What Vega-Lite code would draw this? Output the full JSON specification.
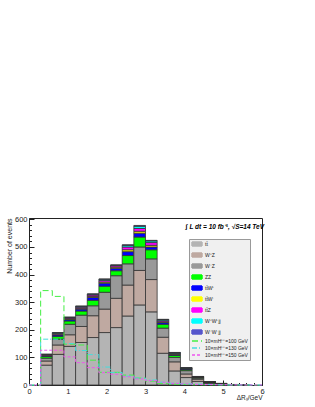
{
"$schema": "https://vega.github.io/schema/vega-lite/v6.json",
"autosize": "none",
"width": 233,
"height": 167,
"padding": {"left": 29, "top": 218, "right": 53, "bottom": 22},
"background": "white",
"title": {"text": "∫ L dt = 10 fb⁻¹, √S=14 TeV", "anchor": "end", "offset": -15, "fontSize": 6.5, "fontStyle": "italic", "fontWeight": "bold", "font": "Liberation Sans", "color": "#000", "dx": -2},
"config": {
  "view": {"stroke": "#222", "strokeWidth": 1},
  "font": "Liberation Sans",
  "axis": {"labelColor": "#222", "domainColor": "#222", "tickColor": "#222", "grid": false, "titleColor": "#222", "titleFontWeight": "normal"}
},
"resolve": {"axis": {"x": "independent", "y": "independent"}},
"datasets": {
  "bkg": [
    {"lo":0.3,"hi":0.6,"p":"tt̄","k":1,"n":72},{"lo":0.3,"hi":0.6,"p":"W⁺Z","k":2,"n":15},{"lo":0.3,"hi":0.6,"p":"W⁻Z","k":3,"n":10},{"lo":0.3,"hi":0.6,"p":"ZZ","k":4,"n":6},{"lo":0.3,"hi":0.6,"p":"tt̄W⁺","k":5,"n":3},{"lo":0.3,"hi":0.6,"p":"tt̄W⁻","k":6,"n":2},{"lo":0.3,"hi":0.6,"p":"tt̄Z","k":7,"n":2},{"lo":0.3,"hi":0.6,"p":"W⁺W⁺jj","k":8,"n":1},{"lo":0.3,"hi":0.6,"p":"W⁻W⁻jj","k":9,"n":0.5},
    {"lo":0.6,"hi":0.9,"p":"tt̄","k":1,"n":111},{"lo":0.6,"hi":0.9,"p":"W⁺Z","k":2,"n":34},{"lo":0.6,"hi":0.9,"p":"W⁻Z","k":3,"n":21},{"lo":0.6,"hi":0.9,"p":"ZZ","k":4,"n":10},{"lo":0.6,"hi":0.9,"p":"tt̄W⁺","k":5,"n":5},{"lo":0.6,"hi":0.9,"p":"tt̄W⁻","k":6,"n":3},{"lo":0.6,"hi":0.9,"p":"tt̄Z","k":7,"n":3},{"lo":0.6,"hi":0.9,"p":"W⁺W⁺jj","k":8,"n":2},{"lo":0.6,"hi":0.9,"p":"W⁻W⁻jj","k":9,"n":1},
    {"lo":0.9,"hi":1.2,"p":"tt̄","k":1,"n":140},{"lo":0.9,"hi":1.2,"p":"W⁺Z","k":2,"n":42},{"lo":0.9,"hi":1.2,"p":"W⁻Z","k":3,"n":38},{"lo":0.9,"hi":1.2,"p":"ZZ","k":4,"n":12},{"lo":0.9,"hi":1.2,"p":"tt̄W⁺","k":5,"n":5},{"lo":0.9,"hi":1.2,"p":"tt̄W⁻","k":6,"n":3},{"lo":0.9,"hi":1.2,"p":"tt̄Z","k":7,"n":3},{"lo":0.9,"hi":1.2,"p":"W⁺W⁺jj","k":8,"n":2},{"lo":0.9,"hi":1.2,"p":"W⁻W⁻jj","k":9,"n":1},
    {"lo":1.2,"hi":1.5,"p":"tt̄","k":1,"n":154},{"lo":1.2,"hi":1.5,"p":"W⁺Z","k":2,"n":58},{"lo":1.2,"hi":1.5,"p":"W⁻Z","k":3,"n":41},{"lo":1.2,"hi":1.5,"p":"ZZ","k":4,"n":15},{"lo":1.2,"hi":1.5,"p":"tt̄W⁺","k":5,"n":7},{"lo":1.2,"hi":1.5,"p":"tt̄W⁻","k":6,"n":3},{"lo":1.2,"hi":1.5,"p":"tt̄Z","k":7,"n":4},{"lo":1.2,"hi":1.5,"p":"W⁺W⁺jj","k":8,"n":3},{"lo":1.2,"hi":1.5,"p":"W⁻W⁻jj","k":9,"n":1},
    {"lo":1.5,"hi":1.8,"p":"tt̄","k":1,"n":172},{"lo":1.5,"hi":1.8,"p":"W⁺Z","k":2,"n":79},{"lo":1.5,"hi":1.8,"p":"W⁻Z","k":3,"n":36},{"lo":1.5,"hi":1.8,"p":"ZZ","k":4,"n":20},{"lo":1.5,"hi":1.8,"p":"tt̄W⁺","k":5,"n":10},{"lo":1.5,"hi":1.8,"p":"tt̄W⁻","k":6,"n":4},{"lo":1.5,"hi":1.8,"p":"tt̄Z","k":7,"n":5},{"lo":1.5,"hi":1.8,"p":"W⁺W⁺jj","k":8,"n":3},{"lo":1.5,"hi":1.8,"p":"W⁻W⁻jj","k":9,"n":1},
    {"lo":1.8,"hi":2.1,"p":"tt̄","k":1,"n":190},{"lo":1.8,"hi":2.1,"p":"W⁺Z","k":2,"n":85},{"lo":1.8,"hi":2.1,"p":"W⁻Z","k":3,"n":61},{"lo":1.8,"hi":2.1,"p":"ZZ","k":4,"n":22},{"lo":1.8,"hi":2.1,"p":"tt̄W⁺","k":5,"n":11},{"lo":1.8,"hi":2.1,"p":"tt̄W⁻","k":6,"n":4},{"lo":1.8,"hi":2.1,"p":"tt̄Z","k":7,"n":6},{"lo":1.8,"hi":2.1,"p":"W⁺W⁺jj","k":8,"n":4},{"lo":1.8,"hi":2.1,"p":"W⁻W⁻jj","k":9,"n":1},
    {"lo":2.1,"hi":2.4,"p":"tt̄","k":1,"n":208},{"lo":2.1,"hi":2.4,"p":"W⁺Z","k":2,"n":106},{"lo":2.1,"hi":2.4,"p":"W⁻Z","k":3,"n":82},{"lo":2.1,"hi":2.4,"p":"ZZ","k":4,"n":18},{"lo":2.1,"hi":2.4,"p":"tt̄W⁺","k":5,"n":9},{"lo":2.1,"hi":2.4,"p":"tt̄W⁻","k":6,"n":4},{"lo":2.1,"hi":2.4,"p":"tt̄Z","k":7,"n":5},{"lo":2.1,"hi":2.4,"p":"W⁺W⁺jj","k":8,"n":2},{"lo":2.1,"hi":2.4,"p":"W⁻W⁻jj","k":9,"n":1},
    {"lo":2.4,"hi":2.7,"p":"tt̄","k":1,"n":250},{"lo":2.4,"hi":2.7,"p":"W⁺Z","k":2,"n":112},{"lo":2.4,"hi":2.7,"p":"W⁻Z","k":3,"n":77},{"lo":2.4,"hi":2.7,"p":"ZZ","k":4,"n":30},{"lo":2.4,"hi":2.7,"p":"tt̄W⁺","k":5,"n":14},{"lo":2.4,"hi":2.7,"p":"tt̄W⁻","k":6,"n":7},{"lo":2.4,"hi":2.7,"p":"tt̄Z","k":7,"n":10},{"lo":2.4,"hi":2.7,"p":"W⁺W⁺jj","k":8,"n":6},{"lo":2.4,"hi":2.7,"p":"W⁻W⁻jj","k":9,"n":2},
    {"lo":2.7,"hi":3.0,"p":"tt̄","k":1,"n":290},{"lo":2.7,"hi":3.0,"p":"W⁺Z","k":2,"n":125},{"lo":2.7,"hi":3.0,"p":"W⁻Z","k":3,"n":85},{"lo":2.7,"hi":3.0,"p":"ZZ","k":4,"n":36},{"lo":2.7,"hi":3.0,"p":"tt̄W⁺","k":5,"n":14},{"lo":2.7,"hi":3.0,"p":"tt̄W⁻","k":6,"n":7},{"lo":2.7,"hi":3.0,"p":"tt̄Z","k":7,"n":10},{"lo":2.7,"hi":3.0,"p":"W⁺W⁺jj","k":8,"n":8},{"lo":2.7,"hi":3.0,"p":"W⁻W⁻jj","k":9,"n":3},
    {"lo":3.0,"hi":3.3,"p":"tt̄","k":1,"n":265},{"lo":3.0,"hi":3.3,"p":"W⁺Z","k":2,"n":117},{"lo":3.0,"hi":3.3,"p":"W⁻Z","k":3,"n":75},{"lo":3.0,"hi":3.3,"p":"ZZ","k":4,"n":33},{"lo":3.0,"hi":3.3,"p":"tt̄W⁺","k":5,"n":10},{"lo":3.0,"hi":3.3,"p":"tt̄W⁻","k":6,"n":6},{"lo":3.0,"hi":3.3,"p":"tt̄Z","k":7,"n":10},{"lo":3.0,"hi":3.3,"p":"W⁺W⁺jj","k":8,"n":6},{"lo":3.0,"hi":3.3,"p":"W⁻W⁻jj","k":9,"n":2},
    {"lo":3.3,"hi":3.6,"p":"tt̄","k":1,"n":115},{"lo":3.3,"hi":3.6,"p":"W⁺Z","k":2,"n":58},{"lo":3.3,"hi":3.6,"p":"W⁻Z","k":3,"n":33},{"lo":3.3,"hi":3.6,"p":"ZZ","k":4,"n":14},{"lo":3.3,"hi":3.6,"p":"tt̄W⁺","k":5,"n":6},{"lo":3.3,"hi":3.6,"p":"tt̄W⁻","k":6,"n":3},{"lo":3.3,"hi":3.6,"p":"tt̄Z","k":7,"n":4},{"lo":3.3,"hi":3.6,"p":"W⁺W⁺jj","k":8,"n":4},{"lo":3.3,"hi":3.6,"p":"W⁻W⁻jj","k":9,"n":1},
    {"lo":3.6,"hi":3.9,"p":"tt̄","k":1,"n":51},{"lo":3.6,"hi":3.9,"p":"W⁺Z","k":2,"n":33},{"lo":3.6,"hi":3.9,"p":"W⁻Z","k":3,"n":16},{"lo":3.6,"hi":3.9,"p":"ZZ","k":4,"n":7},{"lo":3.6,"hi":3.9,"p":"tt̄W⁺","k":5,"n":4},{"lo":3.6,"hi":3.9,"p":"tt̄W⁻","k":6,"n":2},{"lo":3.6,"hi":3.9,"p":"tt̄Z","k":7,"n":2},{"lo":3.6,"hi":3.9,"p":"W⁺W⁺jj","k":8,"n":2},{"lo":3.6,"hi":3.9,"p":"W⁻W⁻jj","k":9,"n":1},
    {"lo":3.9,"hi":4.2,"p":"tt̄","k":1,"n":27},{"lo":3.9,"hi":4.2,"p":"W⁺Z","k":2,"n":13},{"lo":3.9,"hi":4.2,"p":"W⁻Z","k":3,"n":12},{"lo":3.9,"hi":4.2,"p":"ZZ","k":4,"n":4},{"lo":3.9,"hi":4.2,"p":"tt̄W⁺","k":5,"n":3},{"lo":3.9,"hi":4.2,"p":"tt̄W⁻","k":6,"n":1},{"lo":3.9,"hi":4.2,"p":"tt̄Z","k":7,"n":1},{"lo":3.9,"hi":4.2,"p":"W⁺W⁺jj","k":8,"n":1},{"lo":3.9,"hi":4.2,"p":"W⁻W⁻jj","k":9,"n":1},
    {"lo":4.2,"hi":4.5,"p":"tt̄","k":1,"n":13},{"lo":4.2,"hi":4.5,"p":"W⁺Z","k":2,"n":8},{"lo":4.2,"hi":4.5,"p":"W⁻Z","k":3,"n":4},{"lo":4.2,"hi":4.5,"p":"ZZ","k":4,"n":2},{"lo":4.2,"hi":4.5,"p":"tt̄W⁺","k":5,"n":1.5},{"lo":4.2,"hi":4.5,"p":"tt̄W⁻","k":6,"n":0.5},{"lo":4.2,"hi":4.5,"p":"tt̄Z","k":7,"n":1},{"lo":4.2,"hi":4.5,"p":"W⁺W⁺jj","k":8,"n":0.5},{"lo":4.2,"hi":4.5,"p":"W⁻W⁻jj","k":9,"n":0.5},
    {"lo":4.5,"hi":4.8,"p":"tt̄","k":1,"n":5},{"lo":4.5,"hi":4.8,"p":"W⁺Z","k":2,"n":3},{"lo":4.5,"hi":4.8,"p":"W⁻Z","k":3,"n":2},{"lo":4.5,"hi":4.8,"p":"ZZ","k":4,"n":1},{"lo":4.5,"hi":4.8,"p":"tt̄W⁺","k":5,"n":0.5},{"lo":4.5,"hi":4.8,"p":"tt̄W⁻","k":6,"n":0.2},{"lo":4.5,"hi":4.8,"p":"tt̄Z","k":7,"n":0.2},{"lo":4.5,"hi":4.8,"p":"W⁺W⁺jj","k":8,"n":0.1},{"lo":4.5,"hi":4.8,"p":"W⁻W⁻jj","k":9,"n":0.1},
    {"lo":4.8,"hi":5.1,"p":"tt̄","k":1,"n":2},{"lo":4.8,"hi":5.1,"p":"W⁺Z","k":2,"n":2},{"lo":4.8,"hi":5.1,"p":"W⁻Z","k":3,"n":1},{"lo":4.8,"hi":5.1,"p":"ZZ","k":4,"n":0.5},{"lo":4.8,"hi":5.1,"p":"tt̄W⁺","k":5,"n":0.3},
    {"lo":5.1,"hi":5.4,"p":"tt̄","k":1,"n":1},{"lo":5.1,"hi":5.4,"p":"W⁺Z","k":2,"n":0.5},{"lo":5.1,"hi":5.4,"p":"W⁻Z","k":3,"n":0.5},
    {"lo":5.4,"hi":5.7,"p":"tt̄","k":1,"n":0.5},{"lo":5.4,"hi":5.7,"p":"W⁺Z","k":2,"n":0.3}
  ],
  "sig": [
    {"x":0,"p":"10×mH⁺⁺=100 GeV","n":0},{"x":0.3,"p":"10×mH⁺⁺=100 GeV","n":342},{"x":0.6,"p":"10×mH⁺⁺=100 GeV","n":321},{"x":0.9,"p":"10×mH⁺⁺=100 GeV","n":148},{"x":1.2,"p":"10×mH⁺⁺=100 GeV","n":145},{"x":1.5,"p":"10×mH⁺⁺=100 GeV","n":90},{"x":1.8,"p":"10×mH⁺⁺=100 GeV","n":46},{"x":2.1,"p":"10×mH⁺⁺=100 GeV","n":46},{"x":2.4,"p":"10×mH⁺⁺=100 GeV","n":36},{"x":2.7,"p":"10×mH⁺⁺=100 GeV","n":25},{"x":3.0,"p":"10×mH⁺⁺=100 GeV","n":14},{"x":3.3,"p":"10×mH⁺⁺=100 GeV","n":6},{"x":3.6,"p":"10×mH⁺⁺=100 GeV","n":3},{"x":3.9,"p":"10×mH⁺⁺=100 GeV","n":2},{"x":4.2,"p":"10×mH⁺⁺=100 GeV","n":1},{"x":4.5,"p":"10×mH⁺⁺=100 GeV","n":1},{"x":4.8,"p":"10×mH⁺⁺=100 GeV","n":0.5},{"x":5.1,"p":"10×mH⁺⁺=100 GeV","n":0.3},{"x":5.4,"p":"10×mH⁺⁺=100 GeV","n":0.2},{"x":6.0,"p":"10×mH⁺⁺=100 GeV","n":0.2},
    {"x":0,"p":"10×mH⁺⁺=130 GeV","n":0},{"x":0.3,"p":"10×mH⁺⁺=130 GeV","n":166},{"x":0.6,"p":"10×mH⁺⁺=130 GeV","n":166},{"x":0.9,"p":"10×mH⁺⁺=130 GeV","n":150},{"x":1.2,"p":"10×mH⁺⁺=130 GeV","n":125},{"x":1.5,"p":"10×mH⁺⁺=130 GeV","n":110},{"x":1.8,"p":"10×mH⁺⁺=130 GeV","n":65},{"x":2.1,"p":"10×mH⁺⁺=130 GeV","n":45},{"x":2.4,"p":"10×mH⁺⁺=130 GeV","n":32},{"x":2.7,"p":"10×mH⁺⁺=130 GeV","n":25},{"x":3.0,"p":"10×mH⁺⁺=130 GeV","n":18},{"x":3.3,"p":"10×mH⁺⁺=130 GeV","n":10},{"x":3.6,"p":"10×mH⁺⁺=130 GeV","n":6},{"x":3.9,"p":"10×mH⁺⁺=130 GeV","n":4},{"x":4.2,"p":"10×mH⁺⁺=130 GeV","n":3},{"x":4.5,"p":"10×mH⁺⁺=130 GeV","n":2},{"x":4.8,"p":"10×mH⁺⁺=130 GeV","n":1},{"x":5.1,"p":"10×mH⁺⁺=130 GeV","n":0.5},{"x":5.4,"p":"10×mH⁺⁺=130 GeV","n":0.3},{"x":6.0,"p":"10×mH⁺⁺=130 GeV","n":0.3},
    {"x":0,"p":"10×mH⁺⁺=150 GeV","n":0},{"x":0.3,"p":"10×mH⁺⁺=150 GeV","n":126},{"x":0.6,"p":"10×mH⁺⁺=150 GeV","n":126},{"x":0.9,"p":"10×mH⁺⁺=150 GeV","n":102},{"x":1.2,"p":"10×mH⁺⁺=150 GeV","n":81},{"x":1.5,"p":"10×mH⁺⁺=150 GeV","n":63},{"x":1.8,"p":"10×mH⁺⁺=150 GeV","n":45},{"x":2.1,"p":"10×mH⁺⁺=150 GeV","n":39},{"x":2.4,"p":"10×mH⁺⁺=150 GeV","n":30},{"x":2.7,"p":"10×mH⁺⁺=150 GeV","n":22},{"x":3.0,"p":"10×mH⁺⁺=150 GeV","n":16},{"x":3.3,"p":"10×mH⁺⁺=150 GeV","n":10},{"x":3.6,"p":"10×mH⁺⁺=150 GeV","n":6},{"x":3.9,"p":"10×mH⁺⁺=150 GeV","n":4},{"x":4.2,"p":"10×mH⁺⁺=150 GeV","n":2},{"x":4.5,"p":"10×mH⁺⁺=150 GeV","n":1.5},{"x":4.8,"p":"10×mH⁺⁺=150 GeV","n":1},{"x":5.1,"p":"10×mH⁺⁺=150 GeV","n":0.5},{"x":5.4,"p":"10×mH⁺⁺=150 GeV","n":0.3},{"x":6.0,"p":"10×mH⁺⁺=150 GeV","n":0.3}
  ]
},
"layer": [
  {
    "data": {"name": "bkg"},
    "transform": [{"stack": "n", "groupby": ["lo"], "sort": [{"field": "k", "order": "ascending"}], "as": ["y0", "y1"]}],
    "mark": {"type": "bar", "stroke": "#333", "strokeWidth": 0.8},
    "encoding": {
      "x": {"field": "lo", "type": "quantitative", "scale": {"domain": [0, 6], "nice": false},
        "axis": {"orient": "bottom", "values": [0,1,2,3,4,5,6], "labelFontSize": 7.5, "tickSize": -5, "labelPadding": 7, "labelFlush": false, "title": "ΔRₗₗ/GeV", "titleAnchor": "end", "titleFontSize": 6.5, "titlePadding": 0}},
      "x2": {"field": "hi"},
      "y": {"field": "y0", "type": "quantitative", "scale": {"domain": [0, 605], "nice": false},
        "axis": {"orient": "left", "values": [0,100,200,300,400,500,600], "labelFontSize": 7.5, "tickSize": -5, "labelPadding": 7, "labelFlush": false, "title": "Number of events", "titleAnchor": "end", "titleFontSize": 7, "titlePadding": 2}},
      "y2": {"field": "y1"},
      "color": {"field": "p", "type": "nominal",
        "scale": {"domain": ["tt̄","W⁺Z","W⁻Z","ZZ","tt̄W⁺","tt̄W⁻","tt̄Z","W⁺W⁺jj","W⁻W⁻jj","10×mH⁺⁺=100 GeV","10×mH⁺⁺=130 GeV","10×mH⁺⁺=150 GeV"],
                  "range": ["#b4b4b4","#bfa9a1","#999999","#00ff00","#0000ff","#ffff00","#ff00ff","#00ffff","#5656cc","#44ee44","#44dddd","#ee55ee"]},
        "legend": {"orient": "none", "legendX": 160, "legendY": 21, "title": null, "padding": 2, "fillColor": "#f0f0f0", "strokeColor": "#999",
          "labelFontSize": 5, "labelFont": "Liberation Sans", "labelColor": "#222", "rowPadding": 1, "symbolSize": 16, "symbolOffset": 3, "labelOffset": 5,
          "encode": {"symbols": {"strokeWidth": {"value": 0.9}, "opacity": {"value": 1}, "size": {"value": 16}}}}
      }
    }
  },
  {
    "data": {"name": "sig"},
    "mark": {"type": "line", "interpolate": "step-after", "strokeWidth": 1},
    "encoding": {
      "x": {"field": "x", "type": "quantitative",
        "axis": {"orient": "bottom", "values": [0.2,0.4,0.6,0.8,1.2,1.4,1.6,1.8,2.2,2.4,2.6,2.8,3.2,3.4,3.6,3.8,4.2,4.4,4.6,4.8,5.2,5.4,5.6,5.8], "labels": false, "domain": false, "tickSize": -2.5, "title": null}},
      "y": {"field": "n", "type": "quantitative",
        "axis": {"orient": "left", "values": [20,40,60,80,120,140,160,180,220,240,260,280,320,340,360,380,420,440,460,480,520,540,560,580], "labels": false, "domain": false, "tickSize": -2.5, "title": null}},
      "color": {"field": "p", "type": "nominal"},
      "strokeDash": {"field": "p", "type": "nominal",
        "scale": {"domain": ["tt̄","W⁺Z","W⁻Z","ZZ","tt̄W⁺","tt̄W⁻","tt̄Z","W⁺W⁺jj","W⁻W⁻jj","10×mH⁺⁺=100 GeV","10×mH⁺⁺=130 GeV","10×mH⁺⁺=150 GeV"],
                  "range": [[1,0],[1,0],[1,0],[1,0],[1,0],[1,0],[1,0],[1,0],[1,0],[6,3],[5,2,1,2],[3,2]]}}
    }
  },
  {
    "data": {"name": "sig"},
    "mark": {"type": "point", "size": 0},
    "encoding": {
      "x": {"field": "x", "type": "quantitative", "axis": null},
      "y": {"field": "n", "type": "quantitative", "axis": null},
      "shape": {"field": "p", "type": "nominal",
        "scale": {"domain": ["tt̄","W⁺Z","W⁻Z","ZZ","tt̄W⁺","tt̄W⁻","tt̄Z","W⁺W⁺jj","W⁻W⁻jj","10×mH⁺⁺=100 GeV","10×mH⁺⁺=130 GeV","10×mH⁺⁺=150 GeV"],
                  "range": ["M-2.5,-1H2.5V1H-2.5Z","M-2.5,-1H2.5V1H-2.5Z","M-2.5,-1H2.5V1H-2.5Z","M-2.5,-1H2.5V1H-2.5Z","M-2.5,-1H2.5V1H-2.5Z","M-2.5,-1H2.5V1H-2.5Z","M-2.5,-1H2.5V1H-2.5Z","M-2.5,-1H2.5V1H-2.5Z","M-2.5,-1H2.5V1H-2.5Z","M-2.5,0H2.5","M-2.5,0H2.5","M-2.5,0H2.5"]}}
    }
  }
]
}
